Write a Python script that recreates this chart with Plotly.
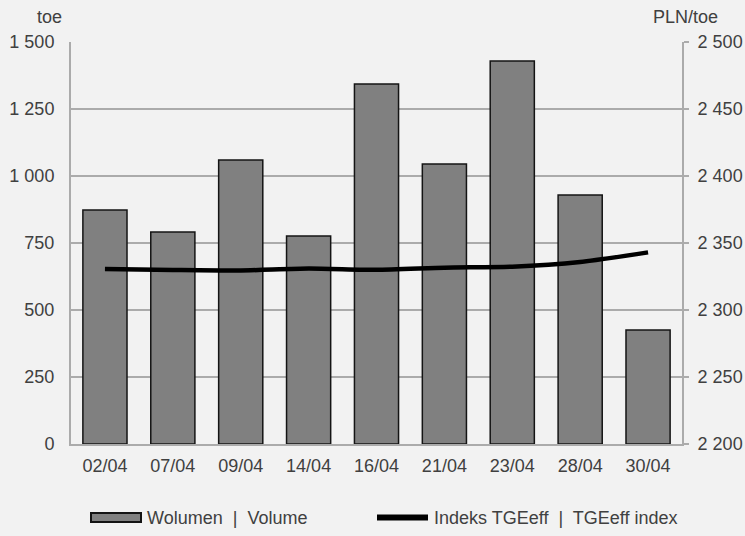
import plotly.graph_objects as go

dates = ["02/04", "07/04", "09/04", "14/04", "16/04", "21/04", "23/04", "28/04", "30/04"]
volume = [873, 791, 1060, 776, 1343, 1045, 1429, 929, 425]
index_tgeeff = [2330.6, 2329.9, 2329.5, 2331.0, 2330.0, 2331.6, 2332.3, 2335.8, 2343.0]
left_ticks = [0, 250, 500, 750, 1000, 1250, 1500]
right_ticks = [2200, 2250, 2300, 2350, 2400, 2450, 2500]

sep = "\u00a0 |\u00a0 "
name_volume = "Wolumen" + sep + "Volume"
name_index = "Indeks TGEeff" + sep + "TGEeff index"
title_left = "toe"
title_right = "PLN/toe"

bg = "#f2f2f2"
grid = "#ababab"
txt = "#404040"
font_family = "Liberation Sans, Arial, sans-serif"
fs = 18

# plot area geometry (pixels)
W, H = 745, 536
L, R, T, B = 71, 682, 42, 444


def px(x):
    return (x - L) / (R - L)


def py(y):
    return (B - y) / (B - T)


fig = go.Figure()
fig.add_trace(go.Bar(
    x=dates, y=volume, name=name_volume,
    marker=dict(color="#808080", line=dict(color="#141414", width=1.5)),
    width=0.65, yaxis="y",
))
fig.add_trace(go.Scatter(
    x=dates, y=index_tgeeff, name=name_index,
    mode="lines", line=dict(color="#000000", width=4.5, shape="spline", smoothing=0.6),
    yaxis="y2",
))

# manual legend (symbols as shapes, labels as text)
leg_y = 517.5
shapes = [
    dict(type="rect", xref="paper", yref="paper",
         x0=px(91), x1=px(141), y0=py(leg_y + 4.5), y1=py(leg_y - 4.5),
         fillcolor="#808080", line=dict(color="#141414", width=2)),
    dict(type="line", xref="paper", yref="paper",
         x0=px(377), x1=px(428), y0=py(leg_y), y1=py(leg_y),
         line=dict(color="#000000", width=6)),
]
annotations = [
    dict(text=name_volume, xref="paper", yref="paper", x=px(145), y=py(leg_y),
         xanchor="left", yanchor="middle", showarrow=False,
         font=dict(size=fs, color=txt)),
    dict(text=name_index, xref="paper", yref="paper", x=px(432), y=py(leg_y),
         xanchor="left", yanchor="middle", showarrow=False,
         font=dict(size=fs, color=txt)),
    dict(text=title_left, xref="paper", yref="paper", x=px(49), y=py(17),
         xanchor="center", yanchor="middle", showarrow=False,
         font=dict(size=fs, color=txt)),
    dict(text=title_right, xref="paper", yref="paper", x=px(685), y=py(17),
         xanchor="center", yanchor="middle", showarrow=False,
         font=dict(size=fs, color=txt)),
]

fig.update_layout(
    width=W, height=H,
    paper_bgcolor=bg, plot_bgcolor=bg,
    margin=dict(l=L, r=W - R, t=T, b=H - B, autoexpand=False),
    separators=", ",
    font=dict(family=font_family, size=fs, color=txt),
    showlegend=False,
    xaxis=dict(showgrid=False, showline=True, linecolor=grid, linewidth=2,
               ticks="", tickfont=dict(size=fs, color=txt), ticklabelstandoff=4,
               automargin=False),
    yaxis=dict(range=[0, 1500], tickvals=left_ticks,
               tickformat=",d", showgrid=True, gridcolor=grid, gridwidth=2,
               showline=True, linecolor=grid, linewidth=2, ticks="",
               zeroline=False, tickfont=dict(size=fs, color=txt), ticklabelstandoff=11,
               automargin=False),
    yaxis2=dict(range=[2200, 2500], tickvals=right_ticks,
                tickformat=",d", overlaying="y", side="right", showgrid=False,
                showline=True, linecolor=grid, linewidth=2, ticks="outside",
                ticklen=5, tickcolor=grid, tickwidth=2, zeroline=False,
                tickfont=dict(size=fs, color=txt), ticklabelstandoff=5,
                automargin=False),
    shapes=shapes,
    annotations=annotations,
)

fig.write_html("out.html", config={"displayModeBar": False},
               post_script="document.body.style.margin='0';")
